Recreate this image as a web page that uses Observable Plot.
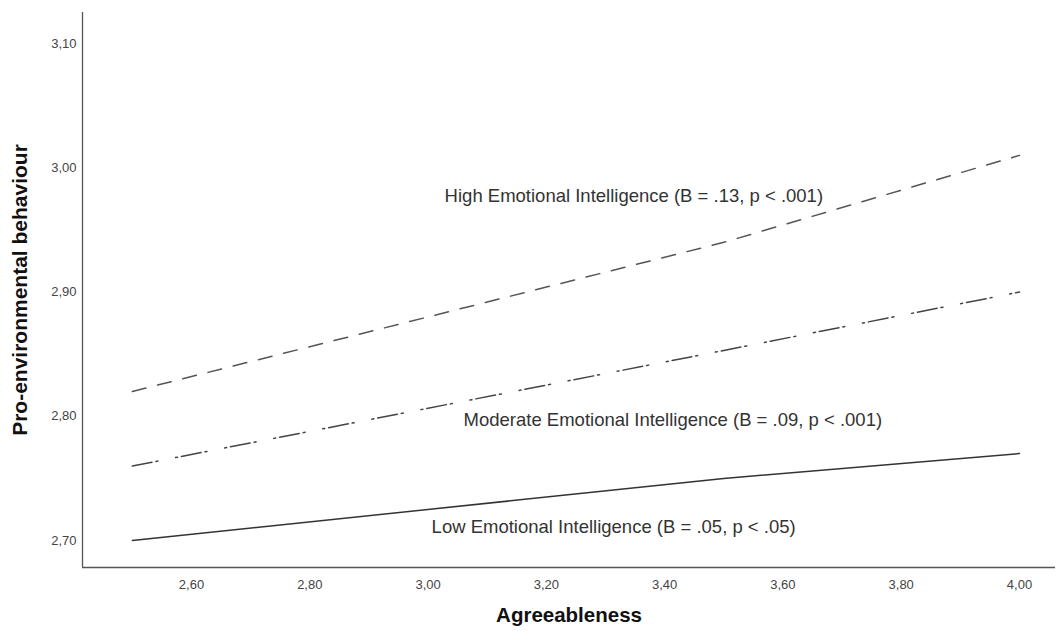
<!DOCTYPE html>
<html>
<head>
<meta charset="utf-8">
<script src="https://cdn.jsdelivr.net/npm/d3@7"></script>
<script src="https://cdn.jsdelivr.net/npm/@observablehq/plot@0.6"></script>
<style>
  html, body { margin: 0; padding: 0; background: #fff; }
  #chart { width: 1057px; height: 631px; }
</style>
</head>
<body>
<div id="chart"></div>
<script>
// ---- data ----
const groups = ["High", "Moderate", "Low"];
const agreeableness = [2.5, 3.5, 4.0];
const highValues = [2.82, 2.94, 3.01];
const moderateValues = [2.76, 2.853, 2.90];
const lowValues = [2.70, 2.75, 2.77];
const groupLabels = [
  "High Emotional Intelligence (B = .13, p < .001)",
  "Moderate Emotional Intelligence (B = .09, p < .001)",
  "Low Emotional Intelligence (B = .05, p < .05)"
];
const labelX = [3.028, 3.060, 3.006];
const labelY = [2.977, 2.797, 2.711];
const xTicks = [2.6, 2.8, 3.0, 3.2, 3.4, 3.6, 3.8, 4.0];
const yTicks = [2.7, 2.8, 2.9, 3.0, 3.1];

const xDomain = [2.4157, 4.0609];
const yDomain = [2.6783, 3.125];

const seriesValues = {High: highValues, Moderate: moderateValues, Low: lowValues};
const rows = groups.flatMap(g => agreeableness.map((a, i) => ({group: g, x: a, y: seriesValues[g][i]})));
const labels = groups.map((g, i) => ({group: g, text: groupLabels[i], x: labelX[i], y: labelY[i]}));

const dash = {High: "14,12", Moderate: "20,4,2,18,2,4", Low: null};
const color = {High: "#555", Moderate: "#444", Low: "#333"};

const fmt = d => d.toFixed(2).replace(".", ",");

const lineMarks = groups.map(g => Plot.line(rows.filter(r => r.group === g), {
  x: "x", y: "y",
  stroke: color[g],
  strokeWidth: 1.5,
  strokeDasharray: dash[g]
}));

const chart = Plot.plot({
  width: 1057,
  height: 631,
  marginLeft: 82,
  marginRight: 2,
  marginTop: 12,
  marginBottom: 64,
  style: {fontFamily: "'Liberation Sans', Arial, sans-serif", fontSize: "13px", background: "#fff"},
  x: {domain: xDomain, ticks: xTicks, tickFormat: fmt},
  y: {domain: yDomain, ticks: yTicks, tickFormat: fmt},
  marks: [
    Plot.axisX({ticks: xTicks, tickFormat: fmt, tickSize: 0, tickPadding: 12, fontSize: 13, color: "#444", label: null}),
    Plot.axisY({ticks: yTicks, tickFormat: fmt, tickSize: 0, tickPadding: 6, fontSize: 13, color: "#444", label: null}),
    Plot.ruleX([xDomain[0]], {stroke: "#555", strokeWidth: 1.3}),
    Plot.ruleY([yDomain[0]], {stroke: "#555", strokeWidth: 1.3}),
    ...lineMarks,
    Plot.text(labels, {x: "x", y: "y", text: "text", textAnchor: "start", fontSize: 18.5, fill: "#333"}),
    Plot.text(["Agreeableness"], {frameAnchor: "bottom", dy: 54, fontSize: 20.5, fontWeight: "bold", fill: "#111"}),
    Plot.text(["Pro-environmental behaviour"], {frameAnchor: "left", textAnchor: "middle", dx: -62, rotate: -90, fontSize: 21, fontWeight: "bold", fill: "#111"})
  ]
});
document.getElementById("chart").appendChild(chart);
</script>
</body>
</html>
